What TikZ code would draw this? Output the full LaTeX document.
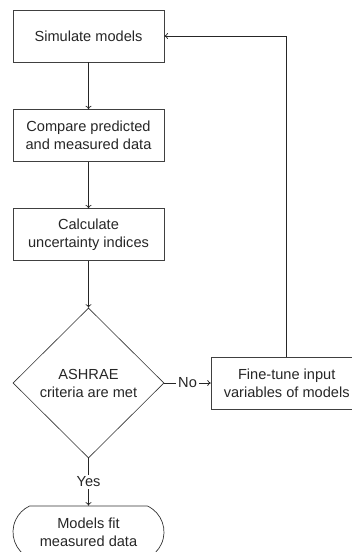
\documentclass[tikz,border=0pt]{standalone}
\usepackage{fontspec}
\setmainfont{Liberation Sans}
\usetikzlibrary{shapes.geometric,shapes.misc,arrows.meta}
\begin{document}
\begin{tikzpicture}[x=1pt,y=-1pt,
  font=\fontsize{14.6}{18}\selectfont,
  every node/.style={text=black!85},
  box/.style={draw=black!75, line width=0.8pt, minimum width=151pt, minimum height=52pt, align=center, inner sep=0pt},
  decision/.style={diamond, draw=black!80, line width=0.6pt, minimum width=151pt, minimum height=150pt, align=center, inner sep=0pt, aspect=1},
  terminal/.style={rounded rectangle, rounded rectangle arc length=130, draw=black!80, line width=0.7pt, minimum width=151pt, minimum height=52pt, align=center, inner sep=0pt},
  arr/.style={draw=black!85, line width=0.7pt, -{To[length=3.5pt,width=6pt]}},
  lbl/.style={fill=white, inner sep=2pt}]
\useasboundingbox (0,0) rectangle (352,552);
\node[box] (sim) at (88.5,36) {Simulate models};
\node[box] (cmp) at (88.5,135.7) {Compare predicted\\and measured data};
\node[box] (calc) at (88.5,234.8) {Calculate\\uncertainty indices};
\node[decision] (dec) at (88.5,383) {ASHRAE\\criteria are met};
\node[box] (fine) at (286.7,383) {Fine-tune input\\variables of models};
\node[terminal] (term) at (88.5,532) {Models fit\\measured data};
\draw[arr] (sim) -- (cmp);
\draw[arr] (cmp) -- (calc);
\draw[arr] (calc.south) -- (dec.north);
\draw[arr] (dec.east) -- node[lbl] {No} (fine.west);
\draw[arr] (dec.south) -- node[lbl] {Yes} (term.north);
\draw[arr] (fine.north) |- (sim.east);
\end{tikzpicture}
\end{document}
